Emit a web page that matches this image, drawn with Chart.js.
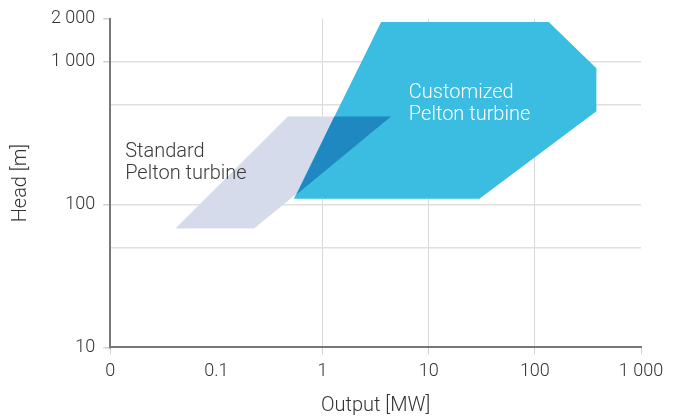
<!DOCTYPE html>
<html>
<head>
<meta charset="utf-8">
<script src="https://cdn.jsdelivr.net/npm/chart.js@4.4.1/dist/chart.umd.min.js"></script>
<style>
  body { margin: 0; background: #fff; }
  #wrap { width: 683px; height: 418px; }
</style>
</head>
<body>
<div id="wrap"><canvas id="myChart"></canvas></div>
<script>
// output [MW] / head [m] corners of each region
const standard_x = [0.041, 0.226, 4.41, 0.471, 0.041];
const standard_y = [68, 68, 414, 414, 68];

const custom_x = [0.536, 3.56, 135, 380, 380, 30, 0.536];
const custom_y = [110, 1900, 1900, 900, 450, 110, 110];

const overlap_x = [1.29, 4.41, 0.571, 1.29];
const overlap_y = [414, 414, 118, 414];

const x_ticks = [0.01, 0.1, 1, 10, 100, 1000];
const x_labels = ['0', '0.1', '1', '10', '100', '1 000'];
const y_ticks = [10, 50, 100, 500, 1000, 2000];
const y_labels = ['10', '', '100', '', '1 000', '2 000'];

function pts(xs, ys) {
  return xs.map((x, i) => ({x: x, y: ys[i]}));
}

function shape(data, color) {
  return {
    data: data,
    showLine: true,
    fill: 'shape',
    backgroundColor: color,
    borderColor: color,
    borderWidth: 0,
    pointRadius: 0,
    tension: 0
  };
}

// text in the regions, anchored on chart values
const notes = [
  {x: 0.0138, y: 215, lines: ['Standard', 'Pelton turbine'], color: '#3a3a3a'},
  {x: 6.5, y: 562, lines: ['Customized', 'Pelton turbine'], color: '#ffffff'}
];

const notePlugin = {
  id: 'notes',
  afterDatasetsDraw(chart) {
    const ctx = chart.ctx;
    ctx.save();
    ctx.font = '300 20px Roboto, "Liberation Sans", sans-serif';
    ctx.textAlign = 'left';
    ctx.textBaseline = 'alphabetic';
    notes.forEach(n => {
      const px = chart.scales.x.getPixelForValue(n.x);
      const py = chart.scales.y.getPixelForValue(n.y);
      ctx.fillStyle = n.color;
      n.lines.forEach((t, i) => ctx.fillText(t, px, py + i * 22));
    });
    ctx.restore();
  }
};

const tickFont = {family: 'Roboto, "Liberation Sans", sans-serif', size: 18, weight: 300};
const titleFont = {family: 'Roboto, "Liberation Sans", sans-serif', size: 20, weight: 300};

const config = {
  type: 'scatter',
  data: {
    // first one is drawn on top
    datasets: [
      shape(pts(overlap_x, overlap_y), '#1f88c1'),
      shape(pts(custom_x, custom_y), '#3bbde1'),
      shape(pts(standard_x, standard_y), '#d5dbea')
    ]
  },
  options: {
    responsive: true,
    maintainAspectRatio: false,
    animation: false,
    layout: {padding: {top: 2, right: 42, left: 5, bottom: 0}},
    plugins: {
      legend: {display: false},
      tooltip: {enabled: false}
    },
    scales: {
      x: {
        type: 'logarithmic',
        min: 0.01,
        max: 1000,
        afterBuildTicks: s => { s.ticks = x_ticks.map(v => ({value: v})); },
        ticks: {
          autoSkip: false,
          maxRotation: 0,
          color: '#333',
          font: tickFont,
          padding: 6,
          callback: (v) => x_labels[x_ticks.indexOf(v)]
        },
        grid: {
          color: c => (c.tick && [1, 10, 100].includes(c.tick.value)) ? '#d9d9d9' : 'rgba(0,0,0,0)',
          tickColor: c => (c.tick && c.tick.value === 0.1) ? 'rgba(0,0,0,0)' : '#d0d0d0',
          tickLength: 7,
          lineWidth: 1
        },
        border: {color: '#777', width: 2},
        title: {display: true, text: 'Output [MW]', color: '#333', font: titleFont, padding: {top: 6, bottom: 0}}
      },
      y: {
        type: 'logarithmic',
        min: 10,
        max: 2000,
        afterBuildTicks: s => { s.ticks = y_ticks.map(v => ({value: v})); },
        ticks: {
          autoSkip: false,
          color: '#333',
          font: tickFont,
          padding: 8,
          callback: (v) => y_labels[y_ticks.indexOf(v)]
        },
        grid: {
          color: c => (c.tick && [50, 100, 500, 1000].includes(c.tick.value)) ? '#e0e0e0' : 'rgba(0,0,0,0)',
          tickColor: c => (c.tick && [50, 500].includes(c.tick.value)) ? 'rgba(0,0,0,0)' : '#d0d0d0',
          tickLength: 7,
          lineWidth: 1.5
        },
        border: {color: '#777', width: 2},
        title: {display: true, text: 'Head [m]', color: '#333', font: titleFont, padding: {bottom: 10}}
      }
    }
  },
  plugins: [notePlugin]
};

const myChart = new Chart(document.getElementById('myChart'), config);
</script>
</body>
</html>
